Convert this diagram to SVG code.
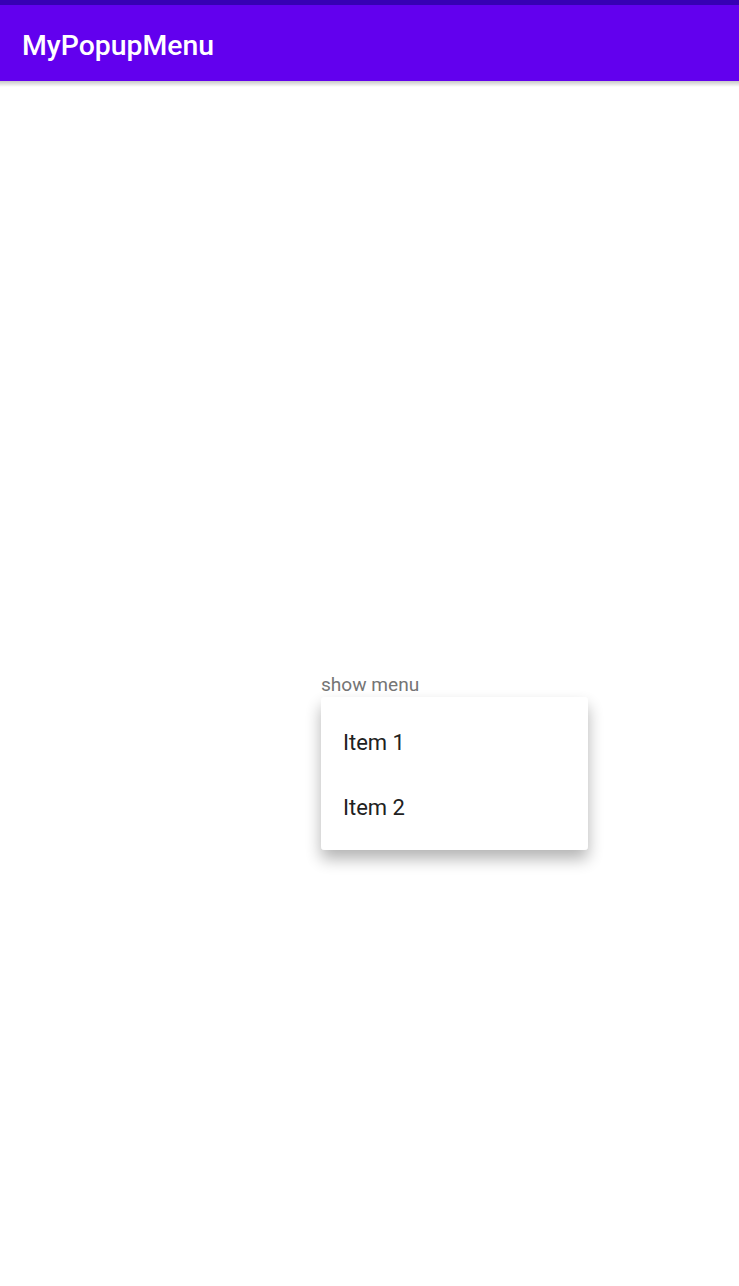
<svg xmlns="http://www.w3.org/2000/svg" width="739" height="1286" viewBox="0 0 739 1286">
<defs>
<style>
.title{font-family:Roboto,"Liberation Sans",sans-serif;font-weight:500;font-size:28.4px;fill:#ffffff}
.btn{font-family:Roboto,"Liberation Sans",sans-serif;font-size:19.1px;fill:#757575}
.item{font-family:Roboto,"Liberation Sans",sans-serif;font-size:22px;fill:#212121}
</style>
<filter id="menuShadow" x="-25%" y="-25%" width="150%" height="160%">
<feGaussianBlur in="SourceAlpha" stdDeviation="8"/>
<feOffset dy="9" result="b"/>
<feComponentTransfer><feFuncA type="linear" slope="0.3"/></feComponentTransfer>
<feMerge><feMergeNode/><feMergeNode in="SourceGraphic"/></feMerge>
</filter>
<linearGradient id="barShadow" x1="0" y1="0" x2="0" y2="1">
<stop offset="0" stop-color="#000" stop-opacity="0.22"/>
<stop offset="1" stop-color="#000" stop-opacity="0"/>
</linearGradient>
</defs>
<rect x="0" y="0" width="739" height="1286" fill="#ffffff"/>
<g id="appbar">
<rect x="0" y="81" width="739" height="6" fill="url(#barShadow)"/>
<rect x="0" y="0" width="739" height="5" fill="#3700B3"/>
<rect x="0" y="5" width="739" height="76" fill="#6200EE"/>
<text class="title" x="22" y="55">MyPopupMenu</text>
</g>
<g id="show-menu">
<text class="btn" x="321" y="691">show menu</text>
</g>
<g id="popup-menu">
<rect x="321" y="697" width="267" height="153" rx="4" ry="4" fill="#ffffff" filter="url(#menuShadow)"/>
<text class="item" x="343" y="750">Item 1</text>
<text class="item" x="343" y="815">Item 2</text>
</g>
<g id="connectors"/>
</svg>
